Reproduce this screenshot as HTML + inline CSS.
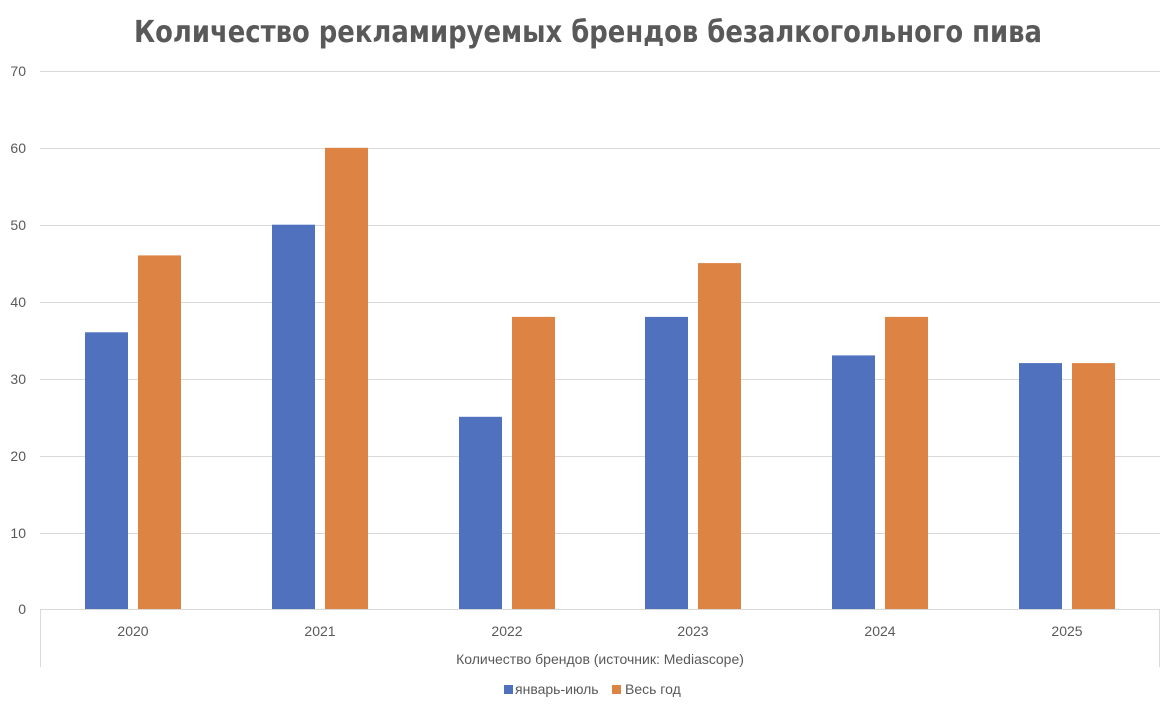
<!DOCTYPE html>
<html><head><meta charset="utf-8"><style>
body{margin:0;background:#fff;}
svg text{font-family:"Liberation Sans","DejaVu Sans",sans-serif;fill:#595959;}
</style></head><body>
<svg width="1176" height="711" xmlns="http://www.w3.org/2000/svg">
<rect width="1176" height="711" fill="#fff"/>
<text x="588" y="42" text-anchor="middle" font-size="30" font-weight="bold" style="font-family:'DejaVu Sans','Liberation Sans',sans-serif" textLength="908" lengthAdjust="spacingAndGlyphs">Количество рекламируемых брендов безалкогольного пива</text>
<g stroke="#d9d9d9" stroke-width="1">
<line x1="40" x2="1160" y1="71.5" y2="71.5"/>
<line x1="40" x2="1160" y1="148.5" y2="148.5"/>
<line x1="40" x2="1160" y1="225.5" y2="225.5"/>
<line x1="40" x2="1160" y1="302.5" y2="302.5"/>
<line x1="40" x2="1160" y1="379.5" y2="379.5"/>
<line x1="40" x2="1160" y1="456.5" y2="456.5"/>
<line x1="40" x2="1160" y1="533.5" y2="533.5"/>
<line x1="40" x2="1160" y1="609.5" y2="609.5"/>
<line x1="40.5" x2="40.5" y1="609" y2="667"/>
<line x1="1159.5" x2="1159.5" y1="609" y2="667"/>
</g>
<g font-size="14" text-anchor="end">
<text x="26" y="76">70</text><text x="26" y="153">60</text><text x="26" y="230">50</text><text x="26" y="307">40</text><text x="26" y="384">30</text><text x="26" y="461">20</text><text x="26" y="538">10</text><text x="26" y="614">0</text>
</g>
<g fill="#4f71be">
<rect x="85" y="332.3" width="43" height="276.7"/>
<rect x="272" y="224.7" width="43" height="384.3"/>
<rect x="459" y="416.8" width="43" height="192.2"/>
<rect x="645" y="316.9" width="43" height="292.1"/>
<rect x="832" y="355.4" width="43" height="253.6"/>
<rect x="1019" y="363.1" width="43" height="245.9"/>
</g>
<g fill="#dd8344">
<rect x="138" y="255.4" width="43" height="353.6"/>
<rect x="325" y="147.8" width="43" height="461.2"/>
<rect x="512" y="316.9" width="43" height="292.1"/>
<rect x="698" y="263.1" width="43" height="345.9"/>
<rect x="885" y="316.9" width="43" height="292.1"/>
<rect x="1072" y="363.1" width="43" height="245.9"/>
</g>
<g font-size="14" text-anchor="middle">
<text x="133" y="636">2020</text><text x="320" y="636">2021</text><text x="507" y="636">2022</text><text x="693" y="636">2023</text><text x="880" y="636">2024</text><text x="1067" y="636">2025</text>
<text x="600" y="664">Количество брендов (источник: Mediascope)</text>
</g>
<rect x="504" y="685" width="9" height="9" fill="#4f71be"/>
<text x="515" y="694" font-size="14">январь-июль</text>
<rect x="612" y="685" width="9" height="9" fill="#dd8344"/>
<text x="625" y="694" font-size="14">Весь год</text>
</svg>
</body></html>
